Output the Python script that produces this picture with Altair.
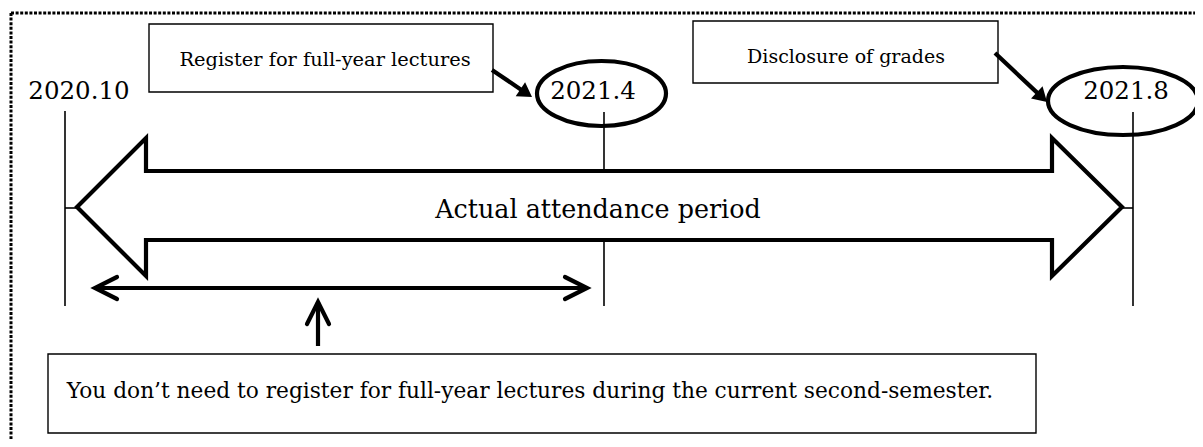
import math
import altair as alt
import pandas as pd

# ---------------- canvas (page pixels) ----------------
W, H = 1187, 431
X0, Y0 = 8, 8
FONT = "DejaVu Serif"
xs = alt.Scale(domain=[X0, X0 + W], nice=False, zero=False)
ys = alt.Scale(domain=[Y0, Y0 + H], nice=False, zero=False, reverse=True)

# ---------------- content ----------------
dates = ["2020.10", "2021.4", "2021.8"]
date_text_x = [79, 593, 1126]
date_text_y = [99, 99, 99]

# timeline verticals (x, top, bottom)
tl_x = [65, 604, 604, 1133, 65, 1122]
tl_x2 = [65, 604, 604, 1133, 77, 1133]
tl_y = [111, 112, 240, 112, 208, 208]
tl_y2 = [306, 171, 306, 306, 208, 208]

# outline of the big double arrow ("Actual attendance period")
arrow_x = [600, 1052, 1052, 1122, 1052, 1052, 146, 146, 77, 146, 146, 600]
arrow_y = [171, 171, 138, 207, 276, 240, 240, 276, 207, 138, 171, 171]
period_label = "Actual attendance period"
period_pos = (598, 218)

# boxed notes
notes = [
    "Register for full-year lectures",
    "Disclosure of grades",
    "You don\u2019t need to register for full-year lectures during the current second-semester.",
]
box_x1 = [149, 693, 48]
box_x2 = [493, 998, 1036]
box_y1 = [24, 21, 354]
box_y2 = [92, 83, 433]
note_x = [325, 846, 530]
note_y = [66, 63, 398]
note_size = [19.4, 19, 21.7]

# ellipses around the dates (center x, center y, rx, ry)
ell_cx = [601.5, 1123]
ell_cy = [93.5, 101]
ell_rx = [64.5, 75]
ell_ry = [32.5, 34]

# thick pointer arrows (start -> tip)
ptr_x1 = [492, 995]
ptr_y1 = [70, 53]
ptr_x2 = [532, 1047]
ptr_y2 = [97, 102]

# thin arrows with open heads (start, tip)
lite_x1 = [95, 318]
lite_y1 = [288, 346]
lite_x2 = [587, 318]
lite_y2 = [288, 302]

# dotted frame
frame_x = [11, 11]
frame_x2 = [1195, 11]
frame_y = [13, 13]
frame_y2 = [13, 439]

# ---------------- layers ----------------
def XE(f):
    return alt.X(f"{f}:Q", scale=xs, axis=None)


def YE(f):
    return alt.Y(f"{f}:Q", scale=ys, axis=None)


frame = alt.Chart(pd.DataFrame({"x": frame_x, "x2": frame_x2, "y": frame_y, "y2": frame_y2})).mark_rule(
    color="black", strokeWidth=3, strokeDash=[3, 1.6]
).encode(x=XE("x"), x2="x2:Q", y=YE("y"), y2="y2:Q")

timeline = alt.Chart(pd.DataFrame({"x": tl_x, "x2": tl_x2, "y": tl_y, "y2": tl_y2})).mark_rule(
    color="black", strokeWidth=1.6
).encode(x=XE("x"), x2="x2:Q", y=YE("y"), y2="y2:Q")

big_arrow = alt.Chart(
    pd.DataFrame({"x": arrow_x, "y": arrow_y, "o": list(range(len(arrow_x)))})
).mark_line(color="black", strokeWidth=4.2, strokeJoin="miter").encode(
    x=XE("x"), y=YE("y"), order="o:Q"
)

period = alt.Chart(pd.DataFrame({"t": [period_label], "x": [period_pos[0]], "y": [period_pos[1]]})).mark_text(
    font=FONT, fontSize=25.4, color="black", align="center", baseline="alphabetic"
).encode(x=XE("x"), y=YE("y"), text="t:N")

boxes = alt.Chart(pd.DataFrame({"x": box_x1, "x2": box_x2, "y": box_y1, "y2": box_y2})).mark_rect(
    fill="white", stroke="black", strokeWidth=1.4
).encode(x=XE("x"), x2="x2:Q", y=YE("y"), y2="y2:Q")

note_text = alt.Chart(pd.DataFrame({"t": notes, "x": note_x, "y": note_y, "s": note_size})).mark_text(
    font=FONT, color="black", align="center", baseline="alphabetic"
).encode(x=XE("x"), y=YE("y"), text="t:N", size=alt.Size("s:Q", scale=None, legend=None))

date_text = alt.Chart(pd.DataFrame({"t": dates, "x": date_text_x, "y": date_text_y})).mark_text(
    font=FONT, fontSize=24.5, color="black", align="center", baseline="alphabetic"
).encode(x=XE("x"), y=YE("y"), text="t:N")

ellipses = []
for cx, cy, rx, ry in zip(ell_cx, ell_cy, ell_rx, ell_ry):
    k = ry / rx
    path = f"M -1 0 A 1 {k:.4f} 0 1 1 1 0 A 1 {k:.4f} 0 1 1 -1 0 Z"
    ellipses.append(
        alt.Chart(pd.DataFrame({"x": [cx], "y": [cy]})).mark_point(
            shape=path, size=(2 * rx) ** 2, filled=False, stroke="black", strokeWidth=4.2, opacity=1
        ).encode(x=XE("x"), y=YE("y"))
    )

# pointer arrows
HEAD = "M 0 0 L -1 -0.6 L -1 0.6 Z"
ptr_layers = []
for x1, y1, x2, y2 in zip(ptr_x1, ptr_y1, ptr_x2, ptr_y2):
    dx, dy = x2 - x1, y2 - y1
    L = math.hypot(dx, dy)
    ux, uy = dx / L, dy / L
    ex, ey = x2 - 10 * ux, y2 - 10 * uy
    ang = math.degrees(math.atan2(dy, dx)) % 360
    ptr_layers.append(
        alt.Chart(pd.DataFrame({"x": [x1], "x2": [ex], "y": [y1], "y2": [ey]})).mark_rule(
            color="black", strokeWidth=4.2
        ).encode(x=XE("x"), x2="x2:Q", y=YE("y"), y2="y2:Q")
    )
    ptr_layers.append(
        alt.Chart(pd.DataFrame({"x": [x2], "y": [y2]})).mark_point(
            shape=HEAD, size=28 ** 2, filled=True, color="black", opacity=1, angle=ang
        ).encode(x=XE("x"), y=YE("y"))
    )

# thin arrows with open chevron heads
CHEV = "M -2 -1 L 0 0 L -2 1"
lite_layers = []
head_rows = []
for i, (x1, y1, x2, y2) in enumerate(zip(lite_x1, lite_y1, lite_x2, lite_y2)):
    lite_layers.append(
        alt.Chart(pd.DataFrame({"x": [x1], "x2": [x2], "y": [y1], "y2": [y2]})).mark_rule(
            color="black", strokeWidth=4.2
        ).encode(x=XE("x"), x2="x2:Q", y=YE("y"), y2="y2:Q")
    )
    ang = math.degrees(math.atan2(y2 - y1, x2 - x1)) % 360
    head_rows.append((x2, y2, ang))
    if i == 0:  # double-headed
        head_rows.append((x1, y1, (ang + 180) % 360))

for hx, hy, ang in head_rows:
    lite_layers.append(
        alt.Chart(pd.DataFrame({"x": [hx], "y": [hy]})).mark_point(
            shape=CHEV, size=22 ** 2, filled=False, stroke="black", strokeWidth=4.2,
            strokeCap="round", strokeJoin="miter", opacity=1, angle=ang
        ).encode(x=XE("x"), y=YE("y"))
    )

chart = alt.layer(
    frame, timeline, big_arrow, period, boxes, note_text, *ellipses, date_text, *ptr_layers, *lite_layers
).properties(
    width=W, height=H, autosize=alt.AutoSizeParams(type="none"), padding=0, background="white"
).configure_view(strokeWidth=0)

chart.save("out.html", embed_options={"renderer": "svg", "actions": False})
